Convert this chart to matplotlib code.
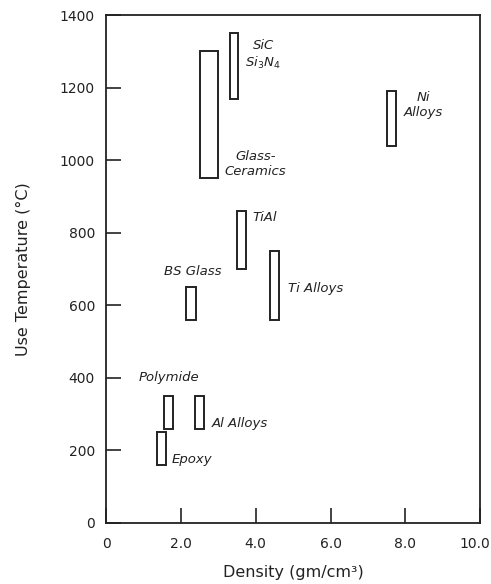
import matplotlib
matplotlib.use("Agg")
import matplotlib.pyplot as plt
from matplotlib.transforms import ScaledTranslation

plt.rcParams['font.family'] = ['DejaVu Sans']
plt.rcParams['mathtext.fontset'] = 'dejavusans'

materials = ["Glass-Ceramics", "SiC/Si3N4", "Ni Alloys", "TiAl", "Ti Alloys",
             "BS Glass", "Polymide", "Al Alloys", "Epoxy"]
dens_lo = [2.5, 3.3, 7.5, 3.5, 4.37, 2.15, 1.55, 2.38, 1.37]
dens_hi = [3.0, 3.53, 7.75, 3.74, 4.63, 2.41, 1.79, 2.62, 1.6]
temp_lo = [950, 1170, 1040, 700, 560, 560, 260, 260, 160]
temp_hi = [1300, 1350, 1190, 860, 750, 650, 350, 350, 250]

label_text = ["Glass-\nCeramics", "SiC\nSi$_3$N$_4$", "Ni\nAlloys", "TiAl", "Ti Alloys",
              "BS Glass", "Polymide", "Al Alloys", "Epoxy"]
label_x = [4.0, 4.2, 8.47, 4.25, 5.6, 2.32, 1.68, 3.57, 2.29]
label_y = [990, 1290, 1153, 843, 647, 692, 400, 275, 176]

xticks = [0, 2, 4, 6, 8, 10]
xtick_labels = ["0", "2.0", "4.0", "6.0", "8.0", "10.0"]
yticks = [0, 200, 400, 600, 800, 1000, 1200, 1400]

fig = plt.figure(figsize=(4.91, 5.84), dpi=100)
ax = fig.add_axes([0.216, 0.1045, 0.762, 0.8695])

ink = "#222222"
centers = [(a + b) / 2 for a, b in zip(dens_lo, dens_hi)]
widths = [b - a for a, b in zip(dens_lo, dens_hi)]
heights = [b - a for a, b in zip(temp_lo, temp_hi)]
ax.bar(centers, heights, width=widths, bottom=temp_lo, fill=False,
       edgecolor=ink, linewidth=1.4)

for t, x, y in zip(label_text, label_x, label_y):
    ax.text(x, y, t, ha="center", va="center", fontsize=9.5, style="italic",
            color=ink, linespacing=1.2)

ax.set_xlim(0, 10)
ax.set_ylim(0, 1400)
ax.set_xticks(xticks)
ax.set_xticklabels(xtick_labels)
ax.set_yticks(yticks)
ax.tick_params(direction="in", length=10.5, width=1.2, color=ink,
               labelsize=10, labelcolor=ink)
ax.tick_params(axis="y", pad=8)
ax.tick_params(axis="x", pad=10)
for s in ax.spines.values():
    s.set_linewidth(1.3)
    s.set_color(ink)

last = ax.get_xticklabels()[-1]
last.set_transform(last.get_transform() + ScaledTranslation(-5 / 100, 0, fig.dpi_scale_trans))

ax.set_xlabel("Density (gm/cm³)", fontsize=11.5, color=ink, labelpad=10)
ax.set_ylabel("Use Temperature (°C)", fontsize=11.5, color=ink, labelpad=21)

fig.savefig("out.png", dpi=100)
